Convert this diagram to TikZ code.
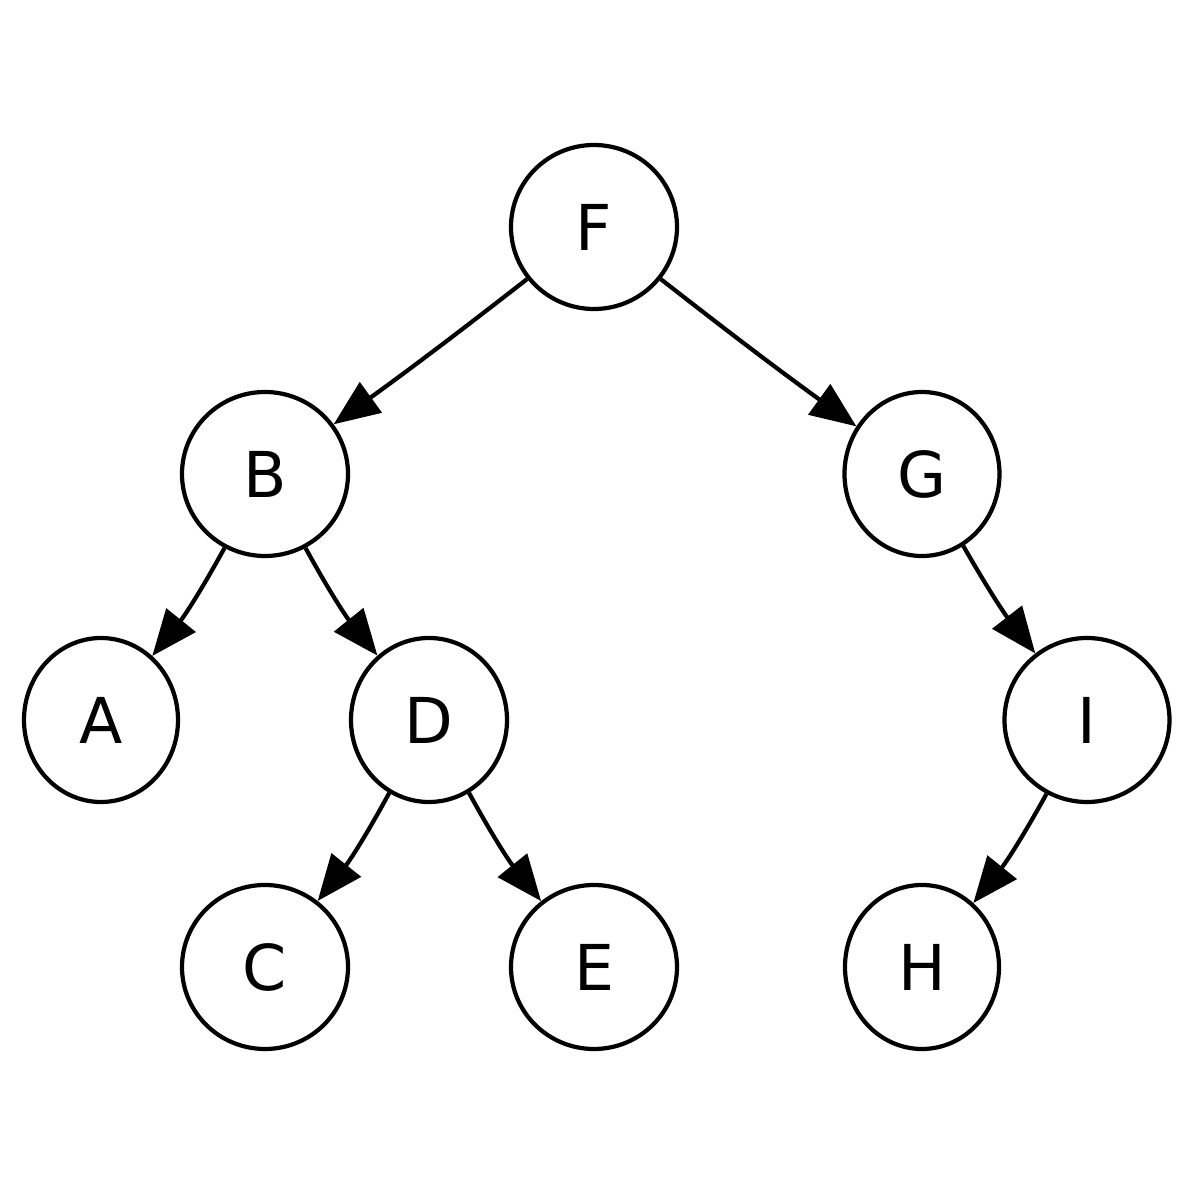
\documentclass[tikz,border=0pt]{standalone}
\usepackage{fontspec}
\setmainfont{DejaVu Sans}
\usetikzlibrary{shapes.geometric,arrows.meta}
\begin{document}
\begin{tikzpicture}[
  vnode/.style={draw, ellipse, line width=1.2pt, minimum height=1.64cm, inner sep=0pt, font=\fontsize{18}{20}\selectfont},
  edge/.style={line width=1.2pt, -{Triangle[length=0.46cm,width=0.37cm]}}
]
\useasboundingbox (0,0) rectangle (12,12);
\node[vnode, minimum width=1.66cm] (F) at (5.94,9.73) {F};
\node[vnode, minimum width=1.66cm] (B) at (2.65,7.26) {B};
\node[vnode, minimum width=1.55cm] (G) at (9.22,7.26) {G};
\node[vnode, minimum width=1.54cm] (A) at (1.01,4.80) {A};
\node[vnode, minimum width=1.56cm] (D) at (4.29,4.80) {D};
\node[vnode, minimum width=1.65cm] (I) at (10.87,4.80) {I};
\node[vnode, minimum width=1.66cm] (C) at (2.65,2.33) {C};
\node[vnode, minimum width=1.66cm] (E) at (5.94,2.33) {E};
\node[vnode, minimum width=1.54cm] (H) at (9.22,2.33) {H};
\draw[edge] (F) to[bend left=1] (B);
\draw[edge] (F) to[bend right=1] (G);
\draw[edge] (B) to[bend left=5] (A);
\draw[edge] (B) to[bend right=5] (D);
\draw[edge] (G) to[bend right=4] (I);
\draw[edge] (D) to[bend left=5] (C);
\draw[edge] (D) to[bend right=5] (E);
\draw[edge] (I) to[bend left=5] (H);
\end{tikzpicture}
\end{document}
